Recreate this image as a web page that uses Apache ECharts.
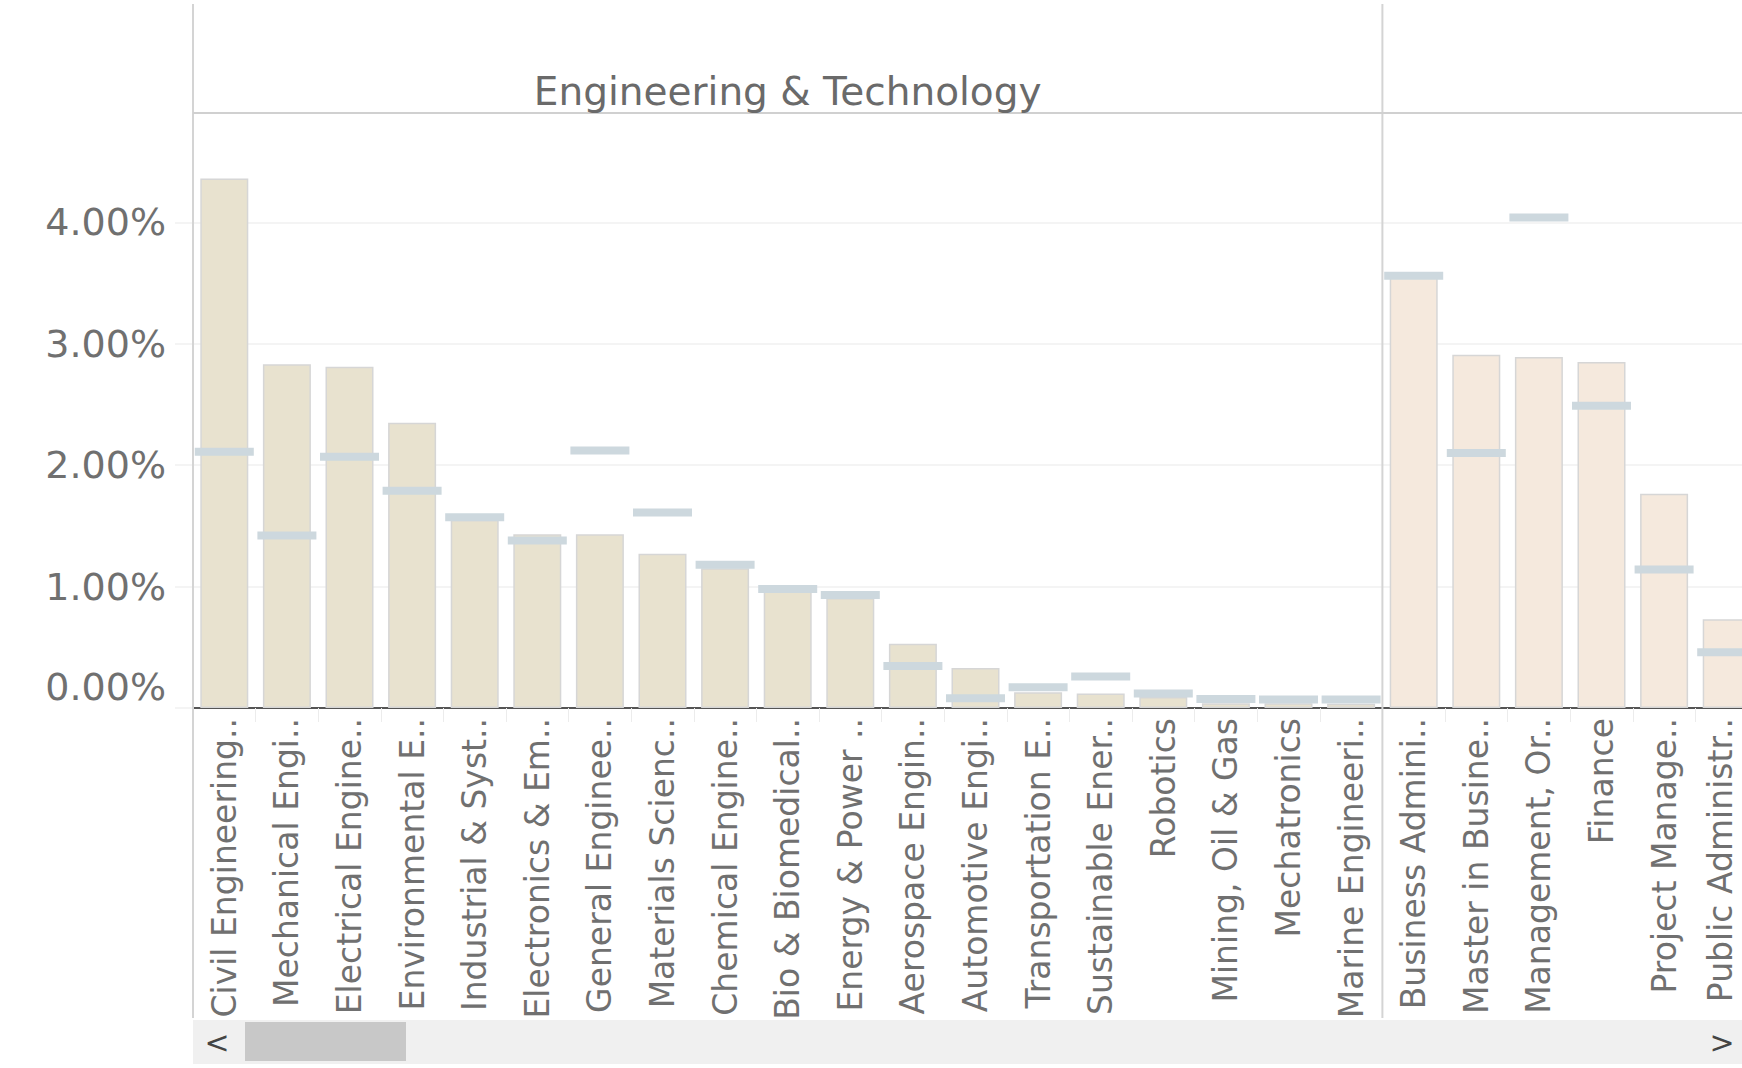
<!DOCTYPE html>
<html>
<head>
<meta charset="utf-8">
<script src="https://cdn.jsdelivr.net/npm/echarts/dist/echarts.min.js"></script>
<style>
html,body{margin:0;padding:0;background:#ffffff;overflow:hidden;width:1742px;height:1068px;}
#chart{width:1780px;height:1068px;}
</style>
</head>
<body>
<div id="chart"></div>
<script>
// ---------------- data ----------------
const engCategories = [
  'Civil Engineering..', 'Mechanical Engi..', 'Electrical Engine..', 'Environmental E..',
  'Industrial & Syst..', 'Electronics & Em..', 'General Enginee..', 'Materials Scienc..',
  'Chemical Engine..', 'Bio & Biomedical..', 'Energy & Power ..', 'Aerospace Engin..',
  'Automotive Engi..', 'Transportation E..', 'Sustainable Ener..', 'Robotics',
  'Mining, Oil & Gas', 'Mechatronics', 'Marine Engineeri..'
];
const engShare = [4.36, 2.83, 2.81, 2.35, 1.55, 1.43, 1.43, 1.27, 1.15, 0.97, 0.905, 0.53, 0.33, 0.13, 0.12, 0.09, 0.04, 0.04, 0.035];
const engReference = [2.11, 1.42, 2.07, 1.79, 1.57, 1.38, 2.12, 1.61, 1.18, 0.98, 0.93, 0.345, 0.08, 0.17, 0.26, 0.12, 0.075, 0.07, 0.07];

const busCategories = [
  'Business Admini..', 'Master in Busine..', 'Management, Or..', 'Finance',
  'Project Manage..', 'Public Administr..'
];
const busShare = [3.55, 2.91, 2.89, 2.85, 1.765, 0.73];
const busReference = [3.56, 2.10, 4.04, 2.49, 1.14, 0.46];

const yTicks = [0, 1, 2, 3, 4];
const panelTitle = 'Engineering & Technology';

// ---------------- layout / style ----------------
const FONT = 'DejaVu Sans';
const TXT = '#707070';
const LEFT = 193, TOP = 113, AXIS_Y = 708, BAND = 62.6;
const W = 1780, H = 1068, VIEW_W = 1742;
const ENG_COLOR = '#e8e2cf';
const BUS_COLOR = '#f5e9dd';
const REF_COLOR = '#cdd8de';

const categories = engCategories.concat(busCategories);
const barData = engShare.map(v => ({ value: v, itemStyle: { color: ENG_COLOR } }))
  .concat(busShare.map(v => ({ value: v, itemStyle: { color: BUS_COLOR } })));
const refData = engReference.concat(busReference);
const lastIndex = categories.length - 1;

const chart = echarts.init(document.getElementById('chart'), null, { renderer: 'svg', width: W, height: H });

const dividerX = LEFT + engCategories.length * BAND;

const option = {
  animation: false,
  backgroundColor: '#ffffff',
  grid: {
    left: LEFT, top: TOP, width: categories.length * BAND, height: AXIS_Y - TOP,
    containLabel: false,
    outerBoundsMode: 'none'
  },
  xAxis: {
    type: 'category',
    data: categories,
    boundaryGap: true,
    axisLine: { show: true, lineStyle: { color: '#555555', width: 2 } },
    axisTick: { show: true, length: 14, interval: 0, lineStyle: { color: '#ececec', width: 1 } },
    axisLabel: {
      interval: 0, rotate: 90, margin: 10,
      fontFamily: FONT, fontSize: 33, color: TXT,
      formatter: function (v, i) {
        return i === lastIndex ? '{edge|' + v + '}' : v;
      },
      rich: {
        edge: { fontFamily: FONT, fontSize: 33, color: TXT, padding: [0, 0, 12, 0] }
      }
    },
    splitLine: { show: false }
  },
  yAxis: {
    type: 'value',
    min: 0, max: 4.9, interval: 1,
    axisLine: { show: false },
    axisTick: { show: true, length: 18, lineStyle: { color: '#f0f0f0', width: 1.5 } },
    splitLine: { show: true, lineStyle: { color: '#f0f0f0', width: 1.5 } },
    axisLabel: {
      margin: 27, fontFamily: FONT, fontSize: 38, color: TXT,
      showMaxLabel: false,
      formatter: function (v) {
        if (yTicks.indexOf(v) < 0) return '';
        const s = v.toFixed(2) + '%';
        return v === 0 ? '{z|' + s + '}' : s;
      },
      rich: {
        z: { fontFamily: FONT, fontSize: 38, color: TXT, padding: [0, 0, 42, 0] }
      }
    }
  },
  series: [
    {
      type: 'bar',
      data: barData,
      barWidth: 48,
      itemStyle: { borderColor: '#d6d6d6', borderWidth: 1.5 },
      z: 2
    },
    {
      type: 'scatter',
      data: refData,
      symbol: 'rect',
      symbolSize: [59, 8],
      itemStyle: { color: REF_COLOR, opacity: 1 },
      z: 3
    }
  ],
  graphic: [
    { type: 'line', shape: { x1: LEFT, y1: 4, x2: LEFT, y2: 1018 }, style: { stroke: '#d4d4d4', lineWidth: 2 }, z: 10 },
    { type: 'line', shape: { x1: dividerX, y1: 4, x2: dividerX, y2: 1018 }, style: { stroke: '#d4d4d4', lineWidth: 2 }, z: 10 },
    { type: 'line', shape: { x1: LEFT, y1: TOP, x2: W, y2: TOP }, style: { stroke: '#d0d0d0', lineWidth: 2 }, z: 10 },
    { type: 'text', x: (LEFT + dividerX) / 2, y: 91,
      style: { text: panelTitle, fontFamily: FONT, fontSize: 39, fill: '#6a6a6a', align: 'center', verticalAlign: 'middle' }, z: 10 },
    { type: 'rect', shape: { x: LEFT, y: 1020, width: W - LEFT, height: 44 }, style: { fill: '#f0f0f0' }, z: 10 },
    { type: 'rect', shape: { x: 245, y: 1022, width: 161, height: 39 }, style: { fill: '#c8c8c8' }, z: 11 },
    { type: 'text', x: 217, y: 1042,
      style: { text: '<', fontFamily: FONT, fontSize: 30, fill: '#444444', align: 'center', verticalAlign: 'middle' }, z: 11 },
    { type: 'text', x: VIEW_W - 20, y: 1042,
      style: { text: '>', fontFamily: FONT, fontSize: 30, fill: '#444444', align: 'center', verticalAlign: 'middle' }, z: 11 }
  ]
};

chart.setOption(option);
</script>
</body>
</html>
